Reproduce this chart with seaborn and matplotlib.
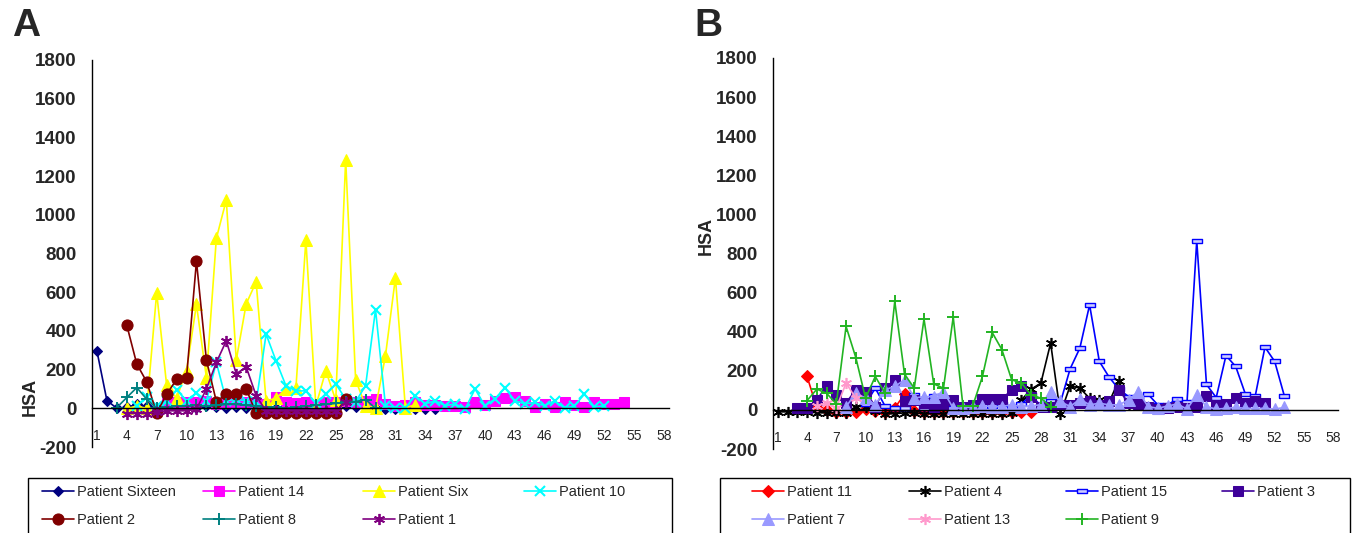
import numpy as np
import pandas as pd
import matplotlib
matplotlib.use("Agg")
import matplotlib.pyplot as plt
from matplotlib.patches import Rectangle
import seaborn as sns

sns.set_style("white")
plt.rcParams['font.family'] = ['Liberation Sans', 'DejaVu Sans']

# ---- data (day index -> HSA) ----
# panel A
p16_start = 1
p16_hsa = [295, 40, 0, 5, 20, 10, 0, 5, 0, 5, 0, 10, 5, 0, 5, 0, 0, 5, 0, -5,
           0, 0, 5, 0, 0, 10, 5, 5, 0, -5, -5, -5, -5, -5, -5]
p14_start = 8
p14_hsa = [25, 30, 30, 30, 40, 20, 30, 30, 35, 25, 20, 60, 30, 25, 35, 18, 30, 30,
           38, 30, 40, 48, 22, 10, 18, 30, 15, 15, 10, 10, 5, 30, 15, 38, 52, 58,
           40, 5, 20, 5, 35, 18, 8, 30, 22, 22, 30]
p6_start = 4
p6_hsa = [0, 10, 0, 597, 121, 52, 194, 537, 159, 878, 1077, 249, 540, 653, 38, 52,
          100, 107, 869, 12, 194, 42, 1285, 147, 12, 3, 272, 675, 3, 18]
p10_start = 5
p10_hsa = [13, 56, 13, 38, 96, 38, 80, 38, 237, 38, 47, 38, 30, 383, 245, 116, 90,
           90, 25, 75, 126, 48, 35, 116, 510, 13, 3, 3, 65, 23, 39, 13, 23, -5, 100,
           13, 48, 107, 39, 23, 30, 13, 39, 0, 13, 73, 8, 13]
p2_start = 4
p2_hsa = [429, 229, 137, -25, 73, 149, 159, 760, 249, 35, 73, 75, 99, -25, -25,
          -25, -25, -25, -25, -25, -25, -25, 50]
p8_start = 3
p8_hsa = [4, 56, 107, 47, 0, 5, 10, 10, 15, 10, 15, 20, 20, 15, 10, 5, 5, 0, 5, 10,
          15, 20, 25, 30, 35, 45, 0]
p1_start = 4
p1_hsa = [-27, -27, -27, -20, -13, -13, -13, -5, 100, 237, 349, 178, 214, 65, -13,
          -13, -13, -13, -13, -13, -13, -13, 30]

# panel B
p11_start = 4
p11_hsa = [171, 10, 0, -9, -9, -9, 5, -5, -9, 10, 80, -5, -9, -9, -9, -9, -9, -9,
           -9, -9, -9, -9, -9, -9]
p4_start = 1
p4_hsa = [-10, -10, -10, -10, -15, -15, -15, -15, 17, 17, -5, -20, -20, -15, -15,
          -20, -20, -20, -20, -20, -20, -20, -20, -20, -15, 51, 106, 137, 342, -20,
          123, 111, 60, 51, 40, 150, 30]
p15_start = 10
p15_hsa = [30, 111, 20, 10, 10, 77, 10, 72, 20, 10, 10, 15, 65, 20, 30, 15, 30, 77,
           20, 48, 37, 210, 316, 537, 248, 168, 106, 68, 51, 80, 26, 26, 56, 39, 865,
           130, 63, 278, 222, 80, 70, 321, 248, 70]
p3_start = 3
p3_hsa = [8, 8, 51, 123, 77, 36, 103, 94, 17, 111, 154, 43, 51, 36, 17, 30, 51, 17,
          26, 55, 55, 55, 103, 120, 68, 17, 17, 26, 26, 34, 43, 26, 43, 103, 34, 30,
          17, 4, 8, 13, 8, 13, 72, 26, 30, 60, 37, 43, 34]
p7_start = 8
p7_hsa = [17, 85, 61, 26, 103, 120, 154, 61, 68, 68, 94, 9, 9, 17, 21, 17, 17, 26,
          17, 21, 26, 94, 43, 17, 55, 26, 34, 26, 26, 51, 94, 17, 8, 20, 30, 4, 77,
          17, 4, 8, 13, 8, 8, 8, 4, 13]
p13_start = 5
p13_hsa = [20, 37, 10, 137, 60]
p9_start = 4
p9_hsa = [48, 106, 85, 31, 427, 268, 60, 171, 85, 555, 183, 111, 465, 133, 111, 475,
          20, 20, 171, 396, 308, 154, 137, 77, 60, 17]

n_days = 58
x_tick_days = list(range(1, 59, 3))
y_ticks = list(range(-200, 1801, 200))

asterisk = (6, 2, 0)
dash_box = [(-1, -0.4), (1, -0.4), (1, 0.4), (-1, 0.4), (-1, -0.4)]

series_a = [
    ("Patient Sixteen", p16_start, p16_hsa, "#000080", "D", 5.5, {}),
    ("Patient 14", p14_start, p14_hsa, "#FF00FF", "s", 7, {}),
    ("Patient Six", p6_start, p6_hsa, "#FFFF00", "^", 8, {}),
    ("Patient 10", p10_start, p10_hsa, "#00FFFF", "x", 7, {"markeredgewidth": 1.5}),
    ("Patient 2", p2_start, p2_hsa, "#800000", "o", 8, {}),
    ("Patient 8", p8_start, p8_hsa, "#008080", "+", 8, {"markeredgewidth": 1.4}),
    ("Patient 1", p1_start, p1_hsa, "#800080", asterisk, 8, {"markeredgewidth": 1.3}),
]
series_b = [
    ("Patient 11", p11_start, p11_hsa, "#FF0000", "D", 6.5, {}),
    ("Patient 4", p4_start, p4_hsa, "#000000", asterisk, 8, {"markeredgewidth": 1.2}),
    ("Patient 15", p15_start, p15_hsa, "#0000FF", dash_box, 7.5,
     {"markerfacecolor": "#CCCCFF", "markeredgewidth": 1.0}),
    ("Patient 3", p3_start, p3_hsa, "#3D0099", "s", 7.5, {}),
    ("Patient 7", p7_start, p7_hsa, "#9999FF", "^", 8, {}),
    ("Patient 13", p13_start, p13_hsa, "#FF99CC", asterisk, 8, {"markeredgewidth": 1.2}),
    ("Patient 9", p9_start, p9_hsa, "#22B422", "+", 9, {"markeredgewidth": 1.4}),
]

fig = plt.figure(figsize=(13.55, 5.33), dpi=100)
W, H = 1355, 533
axA = fig.add_axes([92 / W, 1 - 447 / H, 577 / W, 387 / H])
axB = fig.add_axes([773 / W, 1 - 449 / H, 565 / W, 391 / H])


def draw_panel(ax, series):
    handles = []
    for name, start, vals, color, marker, ms, extra in series:
        df = pd.DataFrame({"day": np.arange(start, start + len(vals)), "hsa": vals})
        kw = dict(markeredgecolor=color, markerfacecolor=color)
        kw.update(extra)
        sns.lineplot(data=df, x="day", y="hsa", ax=ax, color=color, marker=marker,
                     markersize=ms, linewidth=1.2, errorbar=None, legend=False,
                     sort=False, label=name, **kw)
        handles.append(ax.lines[-1])
    ax.set_xlim(0.5, n_days + 0.5)
    ax.set_ylim(-200, 1800)
    ax.set_yticks(y_ticks)
    ax.set_yticklabels([str(v) for v in y_ticks], fontsize=13.5, fontweight="bold")
    ax.set_xticks(x_tick_days)
    ax.set_xticklabels([str(d) for d in x_tick_days], fontsize=14)
    ax.set_xticks(np.arange(0.5, n_days + 1, 1), minor=True)
    ax.tick_params(axis="x", which="major", length=0, pad=15)
    ax.tick_params(axis="x", which="minor", length=5, width=1, direction="out", color="black")
    ax.tick_params(axis="y", length=5, width=1, direction="out", color="black", pad=6)
    ax.spines["bottom"].set_position(("data", 0))
    for s in ["top", "right"]:
        ax.spines[s].set_visible(False)
    for s in ["left", "bottom"]:
        ax.spines[s].set_color("black")
        ax.spines[s].set_linewidth(1.0)
    ax.set_xlabel("")
    ax.set_ylabel("")
    return handles


hA = draw_panel(axA, series_a)
hB = draw_panel(axB, series_b)

fig.text(12 / W, 1 - 8 / H, "A", fontsize=28, fontweight="bold", va="top", ha="left")
fig.text(694 / W, 1 - 8 / H, "B", fontsize=28, fontweight="bold", va="top", ha="left")
fig.text(30 / W, 1 - 397 / H, "HSA", fontsize=13, fontweight="bold", rotation=90,
         va="center", ha="center")
fig.text(706 / W, 1 - 236 / H, "HSA", fontsize=13, fontweight="bold", rotation=90,
         va="center", ha="center")


def add_legend(handles, col_x, box_x0, box_x1):
    fig.add_artist(Rectangle((box_x0 / W, -0.02), (box_x1 - box_x0) / W, 1.02 - 478 / H,
                             transform=fig.transFigure, fill=False, edgecolor="black",
                             linewidth=1.0))
    for i, x in enumerate(col_x):
        hs = handles[i::4]
        fig.legend(hs, [h.get_label() for h in hs], loc="upper left",
                   bbox_to_anchor=(x / W, 1 - 485 / H), frameon=False, fontsize=10.5,
                   handlelength=2.2, handletextpad=0.2, borderpad=0, borderaxespad=0,
                   labelspacing=0.95)


add_legend(hA, [42, 203, 363, 524], 28, 672)
add_legend(hB, [752, 909, 1066, 1222], 720, 1350)

fig.savefig("out.png", dpi=100)
